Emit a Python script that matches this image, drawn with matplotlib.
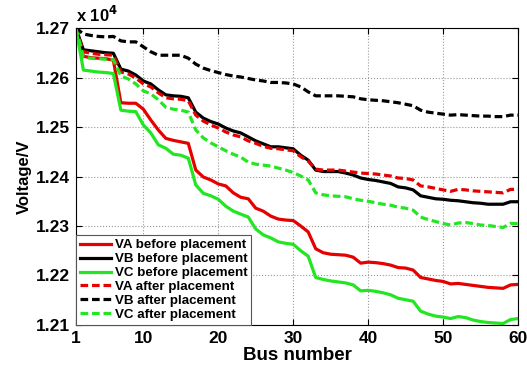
import numpy as np
import matplotlib
matplotlib.use('Agg')
import matplotlib.pyplot as plt

plt.rcParams['font.family'] = ['Liberation Sans', 'DejaVu Sans']
plt.rcParams['font.weight'] = 'bold'

### data (volts)
bus = np.arange(1, 61)

va_before = [12700, 12643, 12640, 12639, 12638, 12635, 12549, 12548, 12548, 12536,
             12514, 12494, 12477, 12473, 12470, 12467, 12413, 12399, 12393, 12385,
             12381, 12367, 12358, 12355, 12336, 12330, 12320, 12314, 12312, 12311,
             12300, 12288, 12254, 12246, 12243, 12242, 12241, 12237, 12225, 12227,
             12226, 12224, 12221, 12216, 12215, 12211, 12196, 12193, 12190, 12188,
             12183, 12184, 12182, 12180, 12178, 12176, 12175, 12174, 12181, 12182]

vb_before = [12700, 12656, 12654, 12652, 12650, 12649, 12617, 12613, 12605, 12593,
             12587, 12575, 12565, 12563, 12562, 12559, 12530, 12518, 12511, 12506,
             12498, 12492, 12488, 12480, 12472, 12466, 12460, 12460, 12458, 12456,
             12443, 12433, 12413, 12410, 12410, 12410, 12407, 12403, 12397, 12394,
             12392, 12389, 12386, 12379, 12377, 12373, 12361, 12358, 12355, 12354,
             12352, 12351, 12349, 12347, 12346, 12344, 12344, 12344, 12349, 12349]

vc_before = [12700, 12615, 12613, 12611, 12610, 12608, 12534, 12532, 12531, 12504,
             12488, 12464, 12457, 12445, 12443, 12437, 12383, 12366, 12361, 12354,
             12340, 12330, 12324, 12318, 12294, 12282, 12276, 12268, 12265, 12263,
             12250, 12239, 12196, 12192, 12189, 12187, 12185, 12181, 12169, 12170,
             12168, 12165, 12161, 12154, 12151, 12148, 12128, 12122, 12118, 12116,
             12113, 12117, 12115, 12110, 12107, 12105, 12104, 12103, 12111, 12113]

va_after = [12700, 12652, 12649, 12647, 12646, 12645, 12611, 12607, 12599, 12587,
            12581, 12569, 12559, 12557, 12556, 12553, 12524, 12512, 12504, 12498,
            12490, 12484, 12480, 12472, 12467, 12461, 12457, 12456, 12454, 12452,
            12440, 12431, 12415, 12413, 12413, 12413, 12411, 12409, 12407, 12406,
            12405, 12403, 12401, 12397, 12396, 12393, 12381, 12379, 12376, 12373,
            12370, 12374, 12373, 12371, 12370, 12369, 12368, 12367, 12374, 12374]

vb_after = [12700, 12688, 12685, 12683, 12682, 12683, 12674, 12672, 12672, 12662,
            12652, 12645, 12645, 12645, 12645, 12639, 12627, 12619, 12614, 12610,
            12606, 12603, 12601, 12598, 12595, 12593, 12590, 12590, 12589, 12587,
            12581, 12571, 12563, 12563, 12563, 12563, 12562, 12561, 12557, 12555,
            12554, 12553, 12551, 12549, 12546, 12543, 12534, 12530, 12528, 12526,
            12524, 12525, 12524, 12523, 12522, 12522, 12521, 12521, 12524, 12524]

vc_after = [12700, 12641, 12639, 12638, 12637, 12636, 12603, 12597, 12587, 12573,
            12567, 12555, 12540, 12536, 12534, 12530, 12494, 12478, 12468, 12460,
            12452, 12445, 12439, 12429, 12425, 12423, 12421, 12417, 12413, 12408,
            12401, 12393, 12367, 12363, 12361, 12360, 12359, 12355, 12352, 12350,
            12347, 12344, 12342, 12338, 12336, 12332, 12318, 12313, 12309, 12305,
            12302, 12306, 12307, 12305, 12302, 12301, 12299, 12297, 12305, 12305]

xticks = [1, 10, 20, 30, 40, 50, 60]
yticks = [12100, 12200, 12300, 12400, 12500, 12600, 12700]
ytick_labels = ['1.21', '1.22', '1.23', '1.24', '1.25', '1.26', '1.27']

red = '#e60000'
green = '#22e622'

fig = plt.figure(figsize=(5.27, 3.71), dpi=100)
ax = fig.add_axes([0.144, 0.124, 0.839, 0.8005])

lw = 2.3
ax.plot(bus, va_before, color=red, lw=lw, label='VA before placement')
ax.plot(bus, vb_before, color='black', lw=lw, label='VB before placement')
ax.plot(bus, vc_before, color=green, lw=lw, label='VC before placement')
ax.plot(bus, va_after, color=red, lw=lw, ls=(0, (2.4, 1.2)), label='VA after placement')
ax.plot(bus, vb_after, color='black', lw=lw, ls=(0, (2.4, 1.2)), label='VB after placement')
ax.plot(bus, vc_after, color=green, lw=lw, ls=(0, (2.4, 1.2)), label='VC after placement')

ax.set_xlim(1, 60)
ax.set_ylim(12100, 12700)
ax.set_xticks(xticks)
ax.set_yticks(yticks)
ax.set_yticklabels(ytick_labels)
ax.tick_params(direction='in', top=True, right=True, labelsize=12.5, length=4, pad=4)
ax.grid(True, ls=':', color='#999999', lw=0.8)
for s in ax.spines.values():
    s.set_linewidth(0.8)

ax.set_xlabel('Bus number', fontsize=13.5, fontweight='bold', labelpad=1)
ax.set_ylabel('Voltage/V', fontsize=12, fontweight='bold', labelpad=3)
ax.text(0.0, 1.01, r'x 10$^{\mathbf{4}}$', transform=ax.transAxes, fontsize=12,
        fontweight='bold', ha='left', va='bottom')

leg = ax.legend(loc='lower left', fontsize=9.6, frameon=True, fancybox=False,
                borderaxespad=0, handlelength=2.3, handletextpad=0.3,
                labelspacing=0.12, borderpad=0.3, framealpha=1)
leg.get_frame().set_edgecolor('#555555')
leg.get_frame().set_linewidth(0.8)
for t in leg.get_texts():
    t.set_fontweight('bold')

fig.savefig('out.png', dpi=100)
